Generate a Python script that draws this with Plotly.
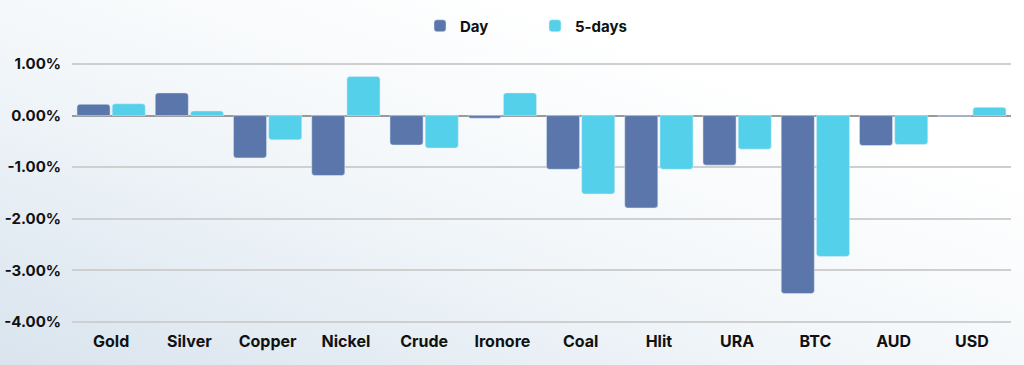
import plotly.graph_objects as go
import urllib.parse

categories = ["Gold", "Silver", "Copper", "Nickel", "Crude", "Ironore", "Coal", "Hlit", "URA", "BTC", "AUD", "USD"]
day = [0.22, 0.44, -0.82, -1.16, -0.57, -0.05, -1.04, -1.79, -0.96, -3.45, -0.58, -0.02]
five_days = [0.23, 0.09, -0.47, 0.76, -0.63, 0.44, -1.52, -1.04, -0.65, -2.73, -0.56, 0.16]
tick_vals = [1, 0, -1, -2, -3, -4]

font_family = "Inter, Roboto, 'Open Sans', sans-serif"

svg = (
    "<svg xmlns='http://www.w3.org/2000/svg' width='1024' height='365' preserveAspectRatio='none'>"
    "<defs><linearGradient id='g' x1='0' y1='1' x2='1' y2='0'>"
    "<stop offset='0' stop-color='#d9e4ee'/>"
    "<stop offset='0.45' stop-color='#f3f7fa'/>"
    "<stop offset='0.75' stop-color='#ffffff'/>"
    "<stop offset='1' stop-color='#ffffff'/>"
    "</linearGradient></defs>"
    "<rect width='1024' height='365' fill='url(#g)'/></svg>"
)
bg_src = "data:image/svg+xml;charset=utf-8," + urllib.parse.quote(svg)

L, R, T, B = 72, 13, 63, 42
PW, PH = 1024 - L - R, 365 - T - B

fig = go.Figure()
fig.add_trace(go.Bar(name="Day", x=categories, y=day, marker_color="#5a76aa"))
fig.add_trace(go.Bar(name="5-days", x=categories, y=five_days, marker_color="#55d0ea"))

fig.update_layout(
    width=1024, height=365,
    margin=dict(l=L, r=R, t=T, b=B, autoexpand=False),
    paper_bgcolor="white",
    plot_bgcolor="rgba(0,0,0,0)",
    barmode="group",
    bargap=0.1,
    bargroupgap=0.06,
    barcornerradius=3,
    font=dict(family=font_family, size=15, color="#111111"),
    legend=dict(orientation="h", x=(420 - L) / PW, xanchor="left",
                y=1 + (T - 26) / PH, yanchor="middle",
                font=dict(size=15, family=font_family, weight="bold"),
                entrywidth=70, entrywidthmode="pixels",
                bgcolor="rgba(0,0,0,0)", traceorder="normal"),
    images=[dict(source=bg_src, xref="paper", yref="paper", x=-L / PW, y=1 + T / PH,
                 sizex=1024 / PW, sizey=365 / PH, xanchor="left", yanchor="top",
                 sizing="stretch", layer="below")],
)
fig.update_xaxes(showgrid=False, showline=False, ticks="", automargin=False,
                 ticklabelstandoff=7,
                 tickfont=dict(size=16, family=font_family, weight="bold"))
fig.update_yaxes(range=[-4.02, 1.02], tickvals=tick_vals, automargin=False,
                 ticktext=[f"{v:.2f}%" for v in tick_vals],
                 showgrid=True, gridcolor="#cfcfcf", gridwidth=1.5,
                 zeroline=True, zerolinecolor="#9a9a9a", zerolinewidth=1.5,
                 ticklabelstandoff=10,
                 tickfont=dict(size=15, family=font_family, weight="bold"))

fig.write_html("out.html", config={"displayModeBar": False},
               post_script="document.body.style.margin='0';")
